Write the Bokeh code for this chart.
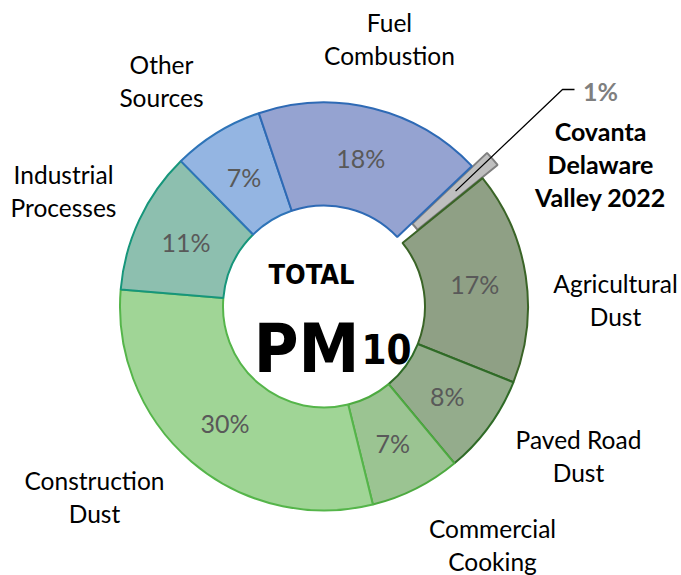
import math
from bokeh.plotting import figure
from bokeh.models import Range1d
from bokeh.core.properties import value
from bokeh.embed import file_html
from bokeh.resources import INLINE

# ---- data ----
categories = ["Covanta Delaware Valley 2022", "Agricultural Dust", "Paved Road Dust",
              "Commercial Cooking", "Construction Dust", "Industrial Processes",
              "Other Sources", "Fuel Combustion"]
shares = [1.25, 16.9, 7.9, 7.2, 30.2, 11.3, 7.2, 18.1]
pct_labels = ["1%", "17%", "8%", "7%", "30%", "11%", "7%", "18%"]
name_lines = [["Covanta", "Delaware", "Valley 2022"], ["Agricultural", "Dust"],
              ["Paved Road", "Dust"], ["Commercial", "Cooking"], ["Construction", "Dust"],
              ["Industrial", "Processes"], ["Other", "Sources"], ["Fuel", "Combustion"]]

# ---- style / layout ----
fills = ["#BFBFBF", "#8FA085", "#94AC8C", "#9BC492", "#A0D596", "#8DBFAF", "#94B5E2", "#95A3D1"]
lines = ["#7F7F7F", "#3A6427", "#2F6B27", "#4DAA40", "#55B54A", "#17967B", "#2E74B8", "#2E6AB5"]
W, H = 681, 575
CX, CY = 323.5, H - 306
R_IN, R_OUT = 101, 204
START_CW = 46.5
EXPLODE = [20, 0, 0, 0, 0, 0, 0, 0]
label_pos = [(600, 130), (615, 283), (578, 439), (492, 528), (94, 480),
             (63, 174), (161, 64), (389, 22)]
LINE_GAP = 33
FONT = "Lato"

p = figure(width=W, height=H, x_range=Range1d(0, W), y_range=Range1d(0, H),
           min_border=0, output_backend="svg", toolbar_location=None,
           background_fill_color="white", border_fill_color="white")
p.axis.visible = False
p.grid.visible = False
p.outline_line_color = None

total = sum(shares)
cum = 0.0
mids = []
for i, s in enumerate(shares):
    a0 = START_CW + cum * 360.0 / total
    a1 = a0 + s * 360.0 / total
    cum += s
    mid = math.radians((a0 + a1) / 2)
    mids.append(mid)
    ox = EXPLODE[i] * math.sin(mid)
    oy = EXPLODE[i] * math.cos(mid)
    p.annular_wedge(x=CX + ox, y=CY + oy, inner_radius=R_IN, outer_radius=R_OUT,
                    start_angle=math.radians(90 - a1), end_angle=math.radians(90 - a0),
                    fill_color=fills[i], line_color=lines[i], line_width=2)

# percentage labels inside ring
rm = (R_IN + R_OUT) / 2
for i in range(1, len(shares)):
    p.text(x=[CX + rm * math.sin(mids[i])], y=[CY + rm * math.cos(mids[i])],
           text=[pct_labels[i]], text_font=value(FONT), text_font_size="25px",
           text_color="#595959", text_align="center", text_baseline="middle")

# category labels
for i, ln in enumerate(name_lines):
    lx, ly = label_pos[i]
    bold = (i == 0)
    for k, t in enumerate(ln):
        p.text(x=[lx], y=[H - (ly + k * LINE_GAP)], text=[t], text_font=value(FONT),
               text_font_size="25px" if bold else "24.5px", text_color="black",
               text_align="center", text_baseline="middle",
               text_font_style="bold" if bold else "normal")

# 1% label and leader line
p.text(x=[600], y=[H - 90], text=[pct_labels[0]], text_font=value(FONT),
       text_font_size="25px", text_color="#7F7F7F", text_font_style="bold",
       text_align="center", text_baseline="middle")
m0 = mids[0]
r_lead = 155
sx = CX + EXPLODE[0] * math.sin(m0) + r_lead * math.sin(m0)
sy = CY + EXPLODE[0] * math.cos(m0) + r_lead * math.cos(m0)
p.line(x=[sx, 562, 574], y=[sy, H - 89, H - 89], line_color="black", line_width=1.3)

# center title
CFONT = "DejaVu Sans Condensed"
p.text(x=[311], y=[H - 274], text=["TOTAL"], text_font=value(CFONT),
       text_font_size="27px", text_font_style="bold", text_color="black",
       text_align="center", text_baseline="alphabetic")
p.text(x=[359], y=[H - 348], text=["PM"], text_font=value(CFONT),
       text_font_size="68px", text_font_style="bold", text_color="black",
       text_align="right", text_baseline="alphabetic")
p.text(x=[361], y=[H - 348], text=["10"], text_font=value(CFONT),
       text_font_size="40px", text_font_style="bold", text_color="black",
       text_align="left", text_baseline="alphabetic")

open("out.html", "w").write(file_html(p, INLINE))
